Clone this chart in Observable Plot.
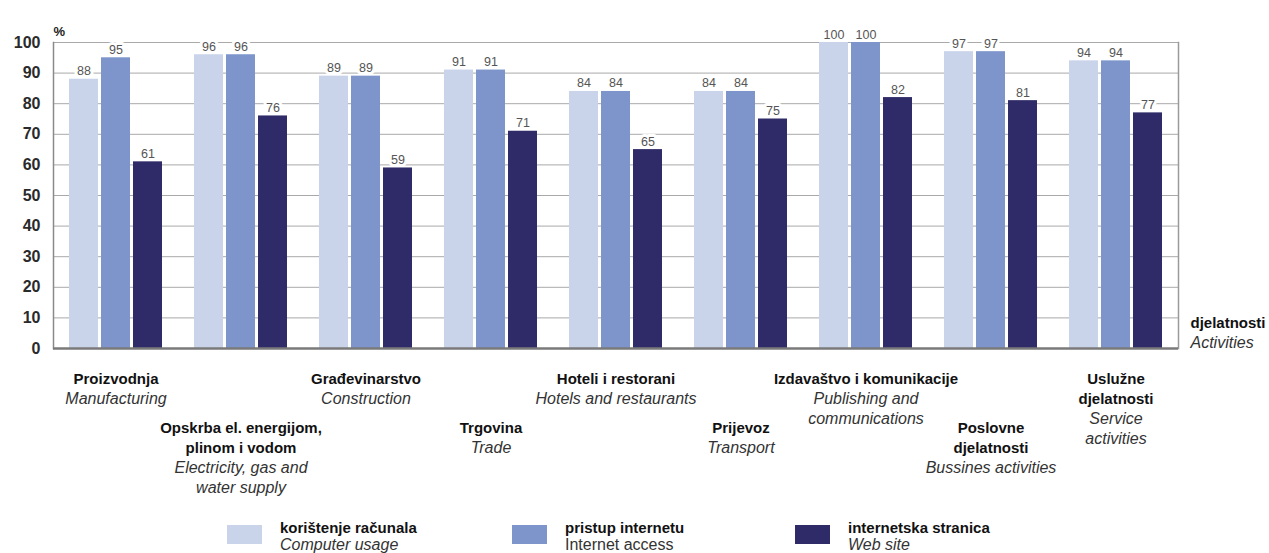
<!DOCTYPE html>
<html>
<head>
<meta charset="utf-8">
<script src="https://cdn.jsdelivr.net/npm/d3@7"></script>
<script src="https://cdn.jsdelivr.net/npm/@observablehq/plot@0.6"></script>
<style>
  html, body { margin: 0; padding: 0; background: #fff; }
  body { width: 1269px; height: 553px; overflow: hidden; font-family: "Liberation Sans", Arial, sans-serif; }
  #legend { position: relative; width: 1269px; height: 43px; }
  .item { position: absolute; top: 0; }
  .sw { position: absolute; top: 15px; width: 35px; height: 19px; }
  .tx { position: absolute; top: 9px; white-space: nowrap; line-height: 17px; }
  .hr { font-weight: bold; font-size: 15px; color: #111; }
  .en { font-style: italic; font-size: 16px; color: #333; }
  .en.up { font-style: normal; }
</style>
</head>
<body>
<div id="chart"></div>
<div id="legend"></div>
<script>
// ---- data ----
const categories = ["Proizvodnja", "Opskrba el. energijom,\nplinom i vodom", "Građevinarstvo", "Trgovina", "Hoteli i restorani", "Prijevoz", "Izdavaštvo i komunikacije", "Poslovne\ndjelatnosti", "Uslužne\ndjelatnosti"];
const categoriesEn = ["Manufacturing", "Electricity, gas and\nwater supply", "Construction", "Trade", "Hotels and restaurants", "Transport", "Publishing and\ncommunications", "Bussines activities", "Service\nactivities"];
const series = ["korištenje računala", "pristup internetu", "internetska stranica"];
const seriesEn = ["Computer usage", "Internet access", "Web site"];
const computerUsage = [88, 96, 89, 91, 84, 84, 100, 97, 94];
const internetAccess = [95, 96, 89, 91, 84, 84, 100, 97, 94];
const webSite = [61, 76, 59, 71, 65, 75, 82, 81, 77];
const yTicks = [0, 10, 20, 30, 40, 50, 60, 70, 80, 90, 100];
const colors = ["#c9d3ea", "#7d95cb", "#2e2b68"];

// ---- table ----
const values = [computerUsage, internetAccess, webSite];
const data = categories.flatMap((c, i) => series.map((s, k) => ({cat: c, series: s, value: values[k][i]})));
const labels = categories.map((c, i) => {
  const nHr = c.split("\n").length;
  return {cat: c, hr: c, en: "\u00a0\n".repeat(nHr) + categoriesEn[i], row: i % 2};
});
const rowA = labels.filter(d => d.row === 0);
const rowB = labels.filter(d => d.row === 1);

const font = "Liberation Sans, Arial, sans-serif";
const hrStyle = {fontWeight: "bold", fontSize: 15, lineHeight: 20 / 15, fill: "#111"};
const enStyle = {fontStyle: "italic", fontSize: 16, lineHeight: 20 / 16, fill: "#333"};

const chart = Plot.plot({
  width: 1269,
  height: 510,
  marginLeft: 53,
  marginRight: 91,
  marginTop: 42,
  marginBottom: 162,
  style: {fontFamily: font, background: "white", overflow: "visible"},
  fx: {domain: categories, padding: 0, axis: null, label: null},
  x: {domain: series, paddingInner: 0.09, paddingOuter: 0.44, axis: null},
  y: {domain: [0, 100], axis: null},
  color: {domain: series, range: colors},
  marks: [
    Plot.ruleY(yTicks.filter(t => t > 0), {stroke: "#a9a9a9", strokeWidth: 1}),
    Plot.frame({anchor: "left", fx: [categories[0]], stroke: "#8a8a8a", strokeWidth: 1.5}),
    Plot.frame({anchor: "right", fx: [categories[categories.length - 1]], stroke: "#9a9a9a", strokeWidth: 1.5}),
    Plot.axisY({ticks: yTicks, tickSize: 0, tickPadding: 13, fontSize: 16, fontWeight: "bold", fill: "#2a2a2a", label: null}),
    Plot.barY(data, {fx: "cat", x: "series", y: "value", fill: "series"}),
    Plot.ruleY([0], {stroke: "#7a7a7a", strokeWidth: 2.5}),
    Plot.text(data, {fx: "cat", x: "series", y: "value", text: d => String(d.value), lineAnchor: "bottom", dy: -4, fontSize: 12.5, fill: "#555", stroke: "white", strokeWidth: 6}),
    // category labels, upper row
    Plot.text(rowA, {fx: "cat", text: "hr", frameAnchor: "bottom", lineAnchor: "top", dy: 21, ...hrStyle}),
    Plot.text(rowA, {fx: "cat", text: "en", frameAnchor: "bottom", lineAnchor: "top", dy: 21, ...enStyle}),
    // category labels, lower row
    Plot.text(rowB, {fx: "cat", text: "hr", frameAnchor: "bottom", lineAnchor: "top", dy: 70, ...hrStyle}),
    Plot.text(rowB, {fx: "cat", text: "en", frameAnchor: "bottom", lineAnchor: "top", dy: 70, ...enStyle}),
    // "%" unit label
    Plot.text(["%"], {fx: () => categories[0], text: d => d, frameAnchor: "top-left", textAnchor: "start", lineAnchor: "bottom", dy: -7, fontSize: 13, fontWeight: "bold", fill: "#222"}),
    // x title
    Plot.text(["djelatnosti"], {fx: () => categories[categories.length - 1], text: d => d, frameAnchor: "bottom-right", textAnchor: "start", lineAnchor: "bottom", dx: 12, dy: -21, fontSize: 15, fontWeight: "bold", fill: "#111"}),
    Plot.text(["Activities"], {fx: () => categories[categories.length - 1], text: d => d, frameAnchor: "bottom-right", textAnchor: "start", lineAnchor: "bottom", dx: 12, dy: -1, fontSize: 16, fontStyle: "italic", fill: "#333"})
  ]
});
document.getElementById("chart").appendChild(chart);

// ---- legend ----
const legendLeft = [227, 512, 795];
const legend = d3.select("#legend");
series.forEach((s, i) => {
  const it = legend.append("div").attr("class", "item").style("left", legendLeft[i] + "px");
  it.append("div").attr("class", "sw").style("background", colors[i]);
  const t = it.append("div").attr("class", "tx").style("left", "53px");
  t.append("div").attr("class", "hr").text(s);
  t.append("div").attr("class", i === 1 ? "en up" : "en").text(seriesEn[i]);
});
</script>
</body>
</html>
